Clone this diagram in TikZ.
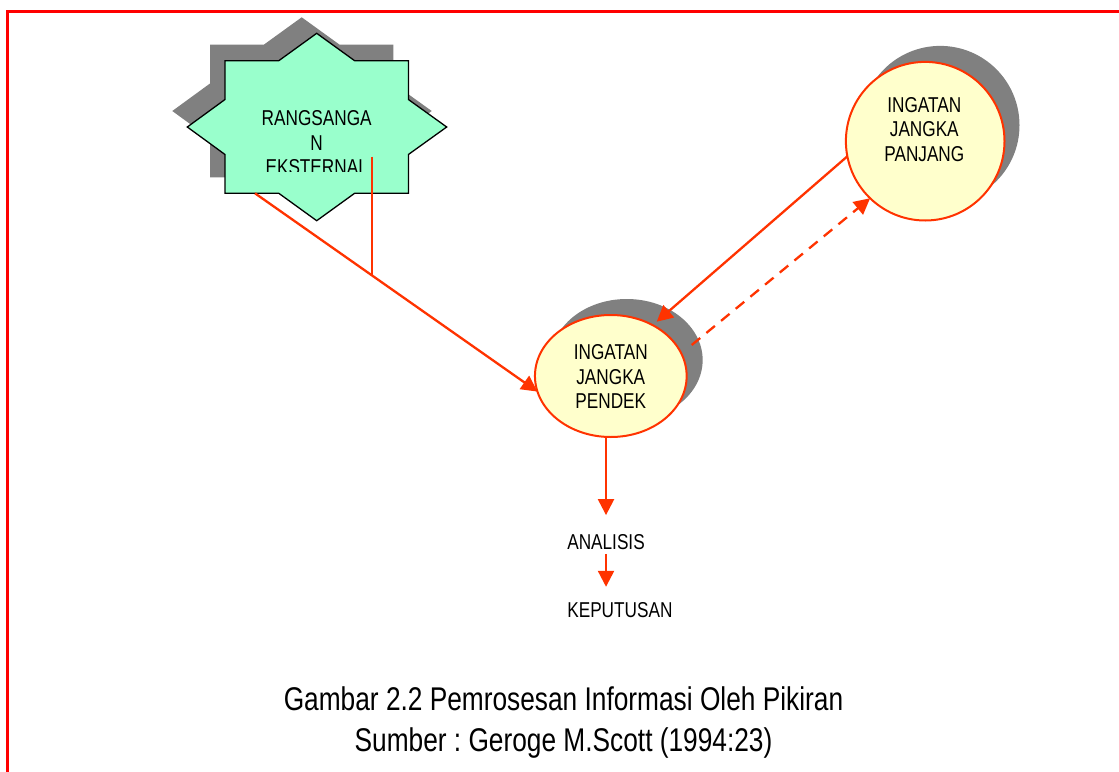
\documentclass[tikz,border=0pt]{standalone}
\usepackage{fontspec}
\setmainfont{Liberation Sans}
\newfontfamily\narrowfont{Liberation Sans}[FakeStretch=0.8]
\usetikzlibrary{arrows.meta,shapes.geometric,calc}
\frenchspacing
\definecolor{lineor}{HTML}{FF3300}
\definecolor{shadowgray}{HTML}{808080}
\definecolor{stargreen}{HTML}{99FFCC}
\definecolor{memyellow}{HTML}{FFFFCC}
\definecolor{framered}{HTML}{FF0000}
\tikzset{
  lbl/.style={font=\narrowfont\fontsize{21.5}{24.5}\selectfont, align=center, inner sep=0pt, outer sep=0pt, text=black},
  memnode/.style={draw=lineor, line width=2pt, fill=memyellow, inner sep=0pt, outer sep=0pt},
  shadowfill/.style={fill=shadowgray, draw=none, inner sep=0pt, outer sep=0pt},
  conn/.style={draw=lineor, line width=2.3pt},
  arr/.style={conn, -{Triangle[length=16pt,width=16pt]}},
  starpts/.style={insert path={(316.7,33.3) -- (354.6,60.7) -- (408.4,60.7) -- (408.4,99.5) -- (446.7,127) -- (408.4,154.5) -- (408.4,193.3) -- (354.6,193.3) -- (316.7,220.7) -- (278.8,193.3) -- (225,193.3) -- (225,154.5) -- (187.3,127) -- (225,99.5) -- (225,60.7) -- (278.8,60.7) -- cycle}},
}
\begin{document}
\frenchspacing
\begin{tikzpicture}[x=1pt,y=-1pt]
\useasboundingbox (0,0) rectangle (1119,771);
\clip (0,0) rectangle (1119,771);
\fill[white] (0,0) rectangle (1119,771);
\draw[framered, line width=2.5pt] (7.3,11.3) rectangle (1140,800);

% external stimulus star
\begin{scope}[shift={(-15,-16)}]
  \fill[shadowgray, starpts];
\end{scope}
\filldraw[fill=stargreen, draw=black, line width=1.3pt, line join=miter, starpts];
\begin{scope}
  \clip (180,100) rectangle (450,171.7);
  \node[lbl, anchor=north] (rangs) at (316.7,110.6) {RANGSANGA\\N\\EKSTERNAL};
\end{scope}

% long-term memory
\node[circle, shadowfill, minimum size=158.6pt] (panjangsh) at (940.2,125.2) {};
\node[circle, memnode, minimum size=158.6pt] (panjang) at (925.2,141.2) {};
\node[lbl, anchor=north] (panjangtxt) at (924.3,97.3) {INGATAN\\JANGKA\\PANJANG};

% short-term memory
\node[ellipse, shadowfill, minimum width=151.7pt, minimum height=122pt] (pendeksh) at (626.8,360) {};
\node[ellipse, memnode, minimum width=151.7pt, minimum height=122pt] (pendek) at (610.8,376) {};
\node[lbl, anchor=north] (pendektxt) at (610.8,344.6) {INGATAN\\JANGKA\\PENDEK};

% outputs
\node[lbl, anchor=west] (analisis) at (567.3,541.7) {ANALISIS};
\node[lbl, anchor=west] (keputusan) at (567.3,610) {KEPUTUSAN};

% connectors
\coordinate (s1) at (255,193.3);
\coordinate (v1) at (372.3,156.7);
\coordinate (v2) at (372.3,276.4);
\draw[arr] (s1) -- (pendek.192);
\draw[conn] (v1) -- (v2);

\coordinate (p1) at (656.7,321.7);
\draw[arr] (panjang.191) -- (p1);
\coordinate (d1) at (691.7,345);
\draw[arr, dash pattern=on 11pt off 8pt] (d1) -- (panjang.226);

\draw[arr] (analisis.north |- pendek.south) -- ($(analisis.north)+(0,-19)$);
\draw[arr] ($(analisis.south)+(0,4.6)$) -- ($(keputusan.north -| analisis.south)+(0,-15.6)$);

% caption
\node[font=\narrowfont\fontsize{32.85}{41}\selectfont, align=center, anchor=north, inner sep=0pt] (caption) at (563.5,686) {Gambar 2.2 Pemrosesan Informasi Oleh Pikiran\\Sumber : Geroge M.Scott (1994:23)};
\end{tikzpicture}
\end{document}
